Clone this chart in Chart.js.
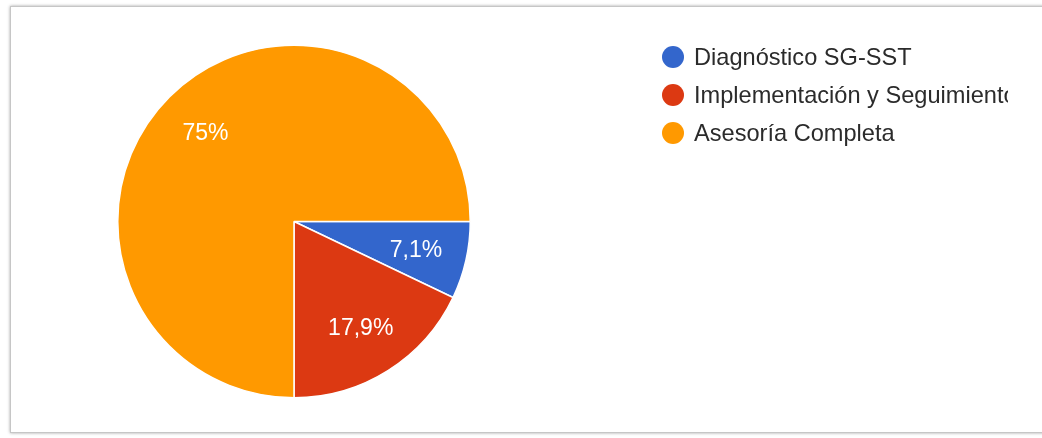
<!DOCTYPE html>
<html>
<head>
<meta charset="utf-8">
<script src="https://cdn.jsdelivr.net/npm/chart.js@4/dist/chart.umd.min.js"></script>
<style>
  body { margin: 0; background: #fff; width: 1042px; height: 438px; overflow: hidden; position: relative; }
  #frame { position: absolute; left: 10px; top: 6px; width: 1100px; height: 425px; border: 1px solid #c6c6c6; box-shadow: 0 0 3px rgba(0,0,0,0.35); background: #fff; }
  #wrap { position: absolute; left: 0; top: 0; width: 1042px; height: 438px; }
</style>
</head>
<body>
<div id="frame"></div>
<div id="wrap"><canvas id="pie"></canvas></div>
<script>
const labels = ['Diagnóstico SG-SST', 'Implementación y Seguimiento', 'Asesoría Completa'];
const values = [7.1, 17.9, 75];
const colors = ['#3366cc', '#dc3912', '#ff9900'];

const fmt = v => String(v).replace('.', ',') + '%';

// percentage text inside each slice
const sliceLabels = {
    id: 'sliceLabels',
    afterDatasetsDraw(chart) {
        const ctx = chart.ctx;
        const meta = chart.getDatasetMeta(0);
        ctx.save();
        ctx.font = '23px "Liberation Sans", Arial, sans-serif';
        ctx.fillStyle = '#ffffff';
        ctx.textAlign = 'center';
        ctx.textBaseline = 'middle';
        meta.data.forEach((arc, i) => {
            const p = arc.getProps(['x', 'y', 'startAngle', 'endAngle', 'outerRadius'], true);
            const mid = (p.startAngle + p.endAngle) / 2;
            const r = p.outerRadius * 0.71;
            ctx.fillText(fmt(values[i]), p.x + Math.cos(mid) * r, p.y + Math.sin(mid) * r + 1);
        });
        ctx.restore();
    }
};

// legend on the right, clipped like the original
const sideLegend = {
    id: 'sideLegend',
    afterDraw(chart) {
        const ctx = chart.ctx;
        const ds = chart.data.datasets[0];
        ctx.save();
        ctx.beginPath();
        ctx.rect(640, 30, 1008 - 640, 140);
        ctx.clip();
        ctx.font = '23.6px "Liberation Sans", Arial, sans-serif';
        ctx.textBaseline = 'middle';
        chart.data.labels.forEach((lab, i) => {
            const y = 57 + i * 38;
            ctx.fillStyle = ds.backgroundColor[i];
            ctx.beginPath();
            ctx.arc(673, y, 11, 0, Math.PI * 2);
            ctx.fill();
            ctx.fillStyle = '#2b2b2b';
            ctx.fillText(lab, 694, y + 1);
        });
        ctx.restore();
    }
};

new Chart(document.getElementById('pie').getContext('2d'), {
    type: 'pie',
    data: {
        labels: labels,
        datasets: [{
            data: values,
            backgroundColor: colors,
            borderColor: '#ffffff',
            borderWidth: 1.5
        }]
    },
    options: {
        responsive: true,
        maintainAspectRatio: false,
        animation: false,
        rotation: 90,
        layout: { padding: { left: 117, right: 571, top: 44, bottom: 39 } },
        plugins: {
            legend: { display: false },
            tooltip: { enabled: false }
        }
    },
    plugins: [sliceLabels, sideLegend]
});
</script>
</body>
</html>
